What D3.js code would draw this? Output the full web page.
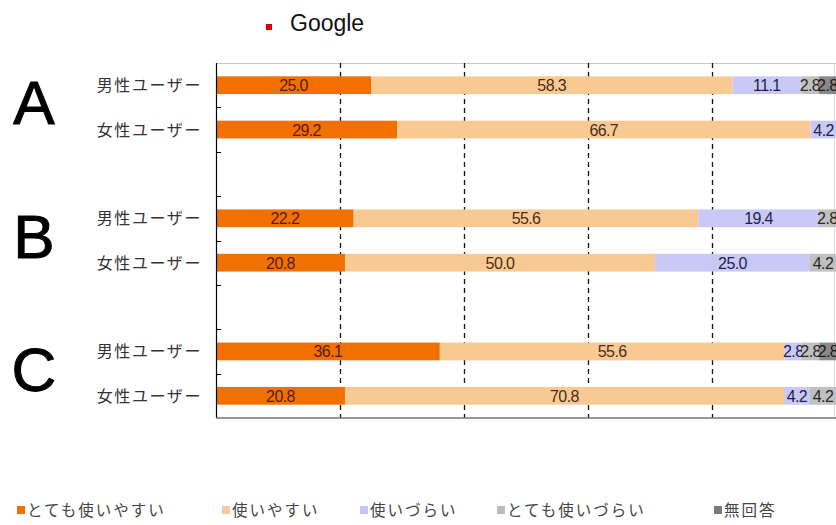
<!DOCTYPE html>
<html lang="ja">
<head>
<meta charset="UTF-8">
<title>Google 使いやすさ</title>
<script src="https://d3js.org/d3.v7.min.js"></script>
<style>
  body { margin: 0; background: #fff; }
</style>
</head>
<body>
<div id="chart"></div>
<script>
// data
var groups = ["A", "B", "C"];
var users = ["男性ユーザー", "女性ユーザー"];
var seriesNames = ["とても使いやすい", "使いやすい", "使いづらい", "とても使いづらい", "無回答"];
// order of rows: A男, A女, B男, B女, C男, C女
var veryEasy = [25.0, 29.2, 22.2, 20.8, 36.1, 20.8];
var easy     = [58.3, 66.7, 55.6, 50.0, 55.6, 70.8];
var hard     = [11.1, 4.2, 19.4, 25.0, 2.8, 4.2];
var veryHard = [2.8, 0, 2.8, 4.2, 2.8, 4.2];
var noAnswer = [2.8, 0, 0, 0, 2.8, 0];
var xTicks = [20, 40, 60, 80];

var colors = ["#f07000", "#f9c993", "#c9c9f5", "#c0c0c0", "#8a8a8a"];
var textColors = ["#5a1a00", "#4a2e14", "#22224a", "#2a2a2a", "#1a1a1a"];
var legendColors = ["#f07000", "#f5c9a3", "#c6c6f0", "#bdbdbd", "#7a7a7a"];

var W = 836, H = 525;
var svg = d3.select("#chart").append("svg")
    .attr("width", W).attr("height", H);

// rows incl. empty gaps between groups
var rowKeys = [];
var rows = [];
groups.forEach(function(g, gi) {
    users.forEach(function(u, ui) {
        var i = gi * 2 + ui;
        var key = g + ui;
        rowKeys.push(key);
        rows.push({key: key, group: g, user: u,
            values: [veryEasy[i], easy[i], hard[i], veryHard[i], noAnswer[i]]});
    });
    if (gi < groups.length - 1) rowKeys.push("gap" + gi);
});

var x = d3.scaleLinear().domain([0, 100]).range([216, 836]);
var y = d3.scaleBand().domain(rowKeys).range([63, 418])
    .paddingInner(0.6).paddingOuter(0.3);

// plot frame
svg.append("line").attr("x1", x(0)).attr("x2", x(100)).attr("y1", 63.5).attr("y2", 63.5)
    .attr("stroke", "#c8c8c8");
svg.append("line").attr("x1", 834.5).attr("x2", 834.5).attr("y1", 63).attr("y2", 418)
    .attr("stroke", "#dcdcdc");

// dashed grid
svg.append("g").selectAll("line").data(xTicks).enter().append("line")
    .attr("x1", function(d) { return Math.round(x(d)) + 0.5; })
    .attr("x2", function(d) { return Math.round(x(d)) + 0.5; })
    .attr("y1", 63).attr("y2", 418)
    .attr("stroke", "#111").attr("stroke-width", 1.3)
    .attr("stroke-dasharray", "5,4");

// bars
var rowG = svg.append("g").selectAll("g").data(rows).enter().append("g");
rowG.each(function(r) {
    var g = d3.select(this);
    var acc = 0;
    r.values.forEach(function(v, si) {
        var x0 = acc;
        acc += v;
        if (v <= 0) return;
        g.append("rect")
            .attr("x", x(x0))
            .attr("y", y(r.key))
            .attr("width", x(acc) - x(x0))
            .attr("height", y.bandwidth())
            .attr("fill", colors[si]);
        g.append("text")
            .attr("x", (x(x0) + x(acc)) / 2)
            .attr("y", y(r.key) + y.bandwidth() / 2 + 6)
            .attr("text-anchor", "middle")
            .attr("font-family", "'Liberation Sans Narrow', 'Liberation Sans', sans-serif")
            .attr("font-size", 16)
            .attr("letter-spacing", "-0.6")
            .attr("fill", textColors[si])
            .text(v.toFixed(1));
    });
});

// left axis
svg.append("line").attr("x1", 216.5).attr("x2", 216.5).attr("y1", 63).attr("y2", 418)
    .attr("stroke", "#000").attr("stroke-width", 1.2);
svg.append("line").attr("x1", 216).attr("x2", 836).attr("y1", 418).attr("y2", 418)
    .attr("stroke", "#777").attr("stroke-width", 1.5);
var bounds = rowKeys.slice(1).map(function(k) {
    return y(k) - y.paddingInner() * y.step() / 2;
});
svg.append("g").selectAll("line").data(bounds).enter().append("line")
    .attr("x1", 216).attr("x2", 221)
    .attr("y1", function(d) { return Math.round(d) + 0.5; })
    .attr("y2", function(d) { return Math.round(d) + 0.5; })
    .attr("stroke", "#000");

// row labels
svg.append("g").selectAll("text").data(rows).enter().append("text")
    .attr("x", 202)
    .attr("y", function(r) { return y(r.key) + y.bandwidth() / 2 + 6; })
    .attr("text-anchor", "end")
    .attr("font-family", "'Noto Sans CJK JP', sans-serif")
    .attr("font-size", 16)
    .attr("letter-spacing", "1.6")
    .attr("fill", "#333")
    .text(function(r) { return r.user; });

// group letters
svg.append("g").selectAll("text").data(groups).enter().append("text")
    .attr("x", 34)
    .attr("y", function(g) {
        return (y(g + "0") + y(g + "1") + y.bandwidth()) / 2 + 17;
    })
    .attr("text-anchor", "middle")
    .attr("font-family", "'Liberation Sans', Arial, sans-serif")
    .attr("font-size", 62)
    .attr("fill", "#000")
    .attr("stroke", "#000").attr("stroke-width", 1)
    .text(function(g) { return g; });

// title
svg.append("rect").attr("x", 266).attr("y", 24).attr("width", 6).attr("height", 6)
    .attr("fill", "#d40000");
svg.append("text").attr("x", 290).attr("y", 31)
    .attr("font-family", "'Liberation Sans', Arial, sans-serif")
    .attr("font-size", 23).attr("fill", "#111")
    .text("Google");

// legend
var legendX = [17, 222, 360, 497, 714];
var lg = svg.append("g").selectAll("g").data(seriesNames).enter().append("g")
    .attr("transform", function(d, i) { return "translate(" + legendX[i] + ",516)"; });
lg.append("rect").attr("x", 0).attr("y", -10).attr("width", 8).attr("height", 8)
    .attr("fill", function(d, i) { return legendColors[i]; });
lg.append("text").attr("x", 10).attr("y", 0)
    .attr("font-family", "'Noto Sans CJK JP', sans-serif")
    .attr("font-size", 15.5)
    .attr("letter-spacing", "2")
    .attr("fill", "#444")
    .text(function(d) { return d; });
</script>
</body>
</html>
